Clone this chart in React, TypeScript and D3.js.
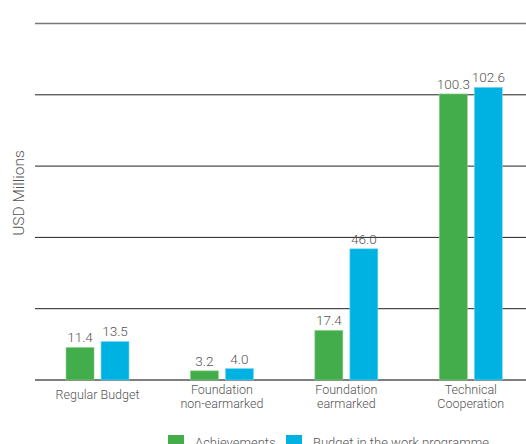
import React from "react";
import * as d3 from "d3";

const categories = ["Regular Budget", "Foundation\nnon-earmarked", "Foundation\nearmarked", "Technical\nCooperation"];
const seriesNames = ["Achievements", "Budget in the work programme"];
const achievements = [11.4, 3.2, 17.4, 100.3];
const budget = [13.5, 4.0, 46.0, 102.6];
const gridTicks = [0, 25, 50, 75, 100, 125];
const colors = ["#42ad4a", "#00b2e2"];

const W = 526;
const H = 444;
const FONT = "Roboto, 'Noto Sans', sans-serif";

export default function App() {
  const y = d3.scaleLinear().domain([0, 125]).range([380, 23.5]);
  const x0 = d3.scaleBand<string>().domain(categories).range([35.3, 533]).padding(0);
  const x1 = d3
    .scaleBand<string>()
    .domain(seriesNames)
    .range([0, 63])
    .paddingInner(0.2)
    .paddingOuter(0);
  const groupOffset = (x0.bandwidth() - 63) / 2;
  const seriesData = [achievements, budget];

  return (
    <svg
      width={W}
      height={H}
      style={{ position: "absolute", left: 0, top: 0, background: "#fff" }}
      fontFamily={FONT}
    >
      {gridTicks.map((t) => (
        <line
          key={t}
          x1={35}
          x2={W}
          y1={y(t)}
          y2={y(t)}
          stroke={t === 125 ? "#777" : t === 0 ? "#555" : "#222"}
          strokeWidth={t === 125 || t === 0 ? 1.5 : 1}
        />
      ))}
      <text
        transform={`translate(24,193) rotate(-90)`}
        textAnchor="middle"
        fontSize={15.5}
        fontWeight={300}
        fill="#555"
      >
        USD Millions
      </text>
      {categories.map((c, i) => {
        const gx = (x0(c) as number) + groupOffset;
        return (
          <g key={c}>
            {seriesNames.map((s, j) => {
              const v = seriesData[j][i];
              const bx = gx + (x1(s) as number);
              const bw = x1.bandwidth();
              return (
                <g key={s}>
                  <rect
                    x={bx}
                    y={y(v)}
                    width={bw}
                    height={y(0) - y(v)}
                    fill={colors[j]}
                    stroke={j === 0 ? "#8fd08f" : "#7fd6f0"}
                    strokeWidth={0.6}
                  />
                  <text
                    x={bx + bw / 2}
                    y={y(v) - 5}
                    textAnchor="middle"
                    fontSize={13.5}
                    fontWeight={300}
                    fill="#555"
                  >
                    {v.toFixed(1)}
                  </text>
                </g>
              );
            })}
            {(() => {
              const lines = c.split("\n");
              const cx = (x0(c) as number) + x0.bandwidth() / 2;
              const startY = lines.length === 1 ? 399 : 394;
              return (
                <text textAnchor="middle" fontSize={12.5} fontWeight={300} fill="#555">
                  {lines.map((l, k) => (
                    <tspan key={k} x={cx} y={startY + k * 13.5}>
                      {l}
                    </tspan>
                  ))}
                </text>
              );
            })()}
          </g>
        );
      })}
      {seriesNames.map((s, j) => {
        const lx = j === 0 ? 168 : 286;
        return (
          <g key={s}>
            <rect x={lx} y={435} width={16} height={16} fill={colors[j]} />
            <text x={lx + 27} y={447} fontSize={13} fontWeight={300} fill="#555">
              {s}
            </text>
          </g>
        );
      })}
    </svg>
  );
}
